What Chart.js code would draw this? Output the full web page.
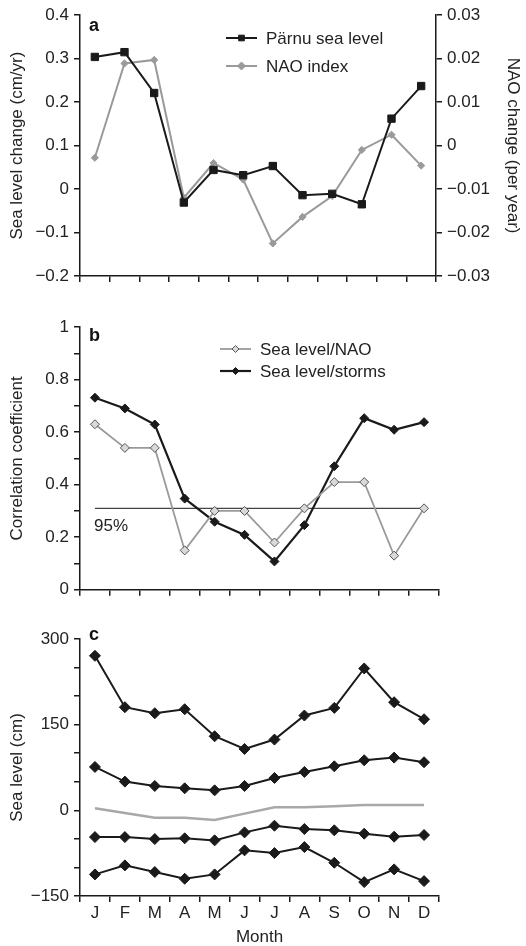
<!DOCTYPE html>
<html lang="en">
<head>
  <meta charset="UTF-8" />
  <title>Pärnu sea level, NAO and storms by month</title>
  <script src="https://cdn.jsdelivr.net/npm/chart.js"></script>
  <style>
    body { margin: 0; background: #fff; }
    .panel { position: absolute; left: 0; width: 526px; }
  </style>
</head>
<body>

  <div class="panel" style="top:0"><canvas id="chartA" width="526" height="300"></canvas></div>
  <div class="panel" style="top:300px"><canvas id="chartB" width="526" height="305"></canvas></div>
  <div class="panel" style="top:605px"><canvas id="chartC" width="526" height="341"></canvas></div>

  <script>
    const months = ['J', 'F', 'M', 'A', 'M', 'J', 'J', 'A', 'S', 'O', 'N', 'D'];

    // panel a
    const parnuSeaLevel = [0.304, 0.315, 0.221, -0.031, 0.044, 0.032, 0.053, -0.014, -0.011, -0.035, 0.162, 0.237];
    const naoIndex = [-0.0028, 0.0189, 0.0197, -0.0120, -0.0040, -0.0078, -0.0225, -0.0164, -0.0116, -0.0010, 0.0025, -0.0046];

    // panel b
    const corrNao = [0.63, 0.54, 0.54, 0.15, 0.30, 0.30, 0.18, 0.31, 0.41, 0.41, 0.13, 0.31];
    const corrStorms = [0.731, 0.690, 0.629, 0.347, 0.259, 0.209, 0.108, 0.246, 0.470, 0.653, 0.609, 0.638];
    const sig95 = 0.31;

    // panel c
    const seaMax = [270.6, 180.6, 170.0, 177.0, 129.7, 107.5, 123.9, 166.0, 179.4, 248.4, 189.3, 159.5];
    const seaUpper = [76.0, 50.3, 42.7, 38.6, 35.0, 42.7, 56.7, 67.2, 77.1, 87.7, 92.3, 84.2];
    const seaMean = [3.5, -4.7, -12.9, -12.9, -17.0, -5.8, 5.3, 5.3, 7.0, 9.4, 9.4, 9.4];
    const seaLower = [-46.8, -46.8, -50.3, -49.0, -52.6, -38.6, -26.9, -32.7, -35.0, -40.9, -46.2, -43.2];
    const seaMin = [-112.2, -96.4, -108.0, -119.8, -112.2, -70.1, -74.8, -64.3, -91.8, -125.6, -103.4, -123.9];

    const INK = '#1a1a1a';
    const GREY = '#9a9a9a';
    const FONT = "'Liberation Sans', Arial, sans-serif";

    Chart.defaults.font.family = FONT;
    Chart.defaults.font.size = 17;
    Chart.defaults.color = '#222';
    Chart.defaults.animation = false;
    Chart.defaults.events = [];
    Chart.defaults.plugins.legend.display = false;
    Chart.defaults.plugins.tooltip.enabled = false;

    const minus = v => (v < 0 ? '\u2212' : '') + Math.abs(v);

    function marker(ctx, style, x, y, r, fill, stroke) {
      ctx.fillStyle = fill;
      ctx.strokeStyle = stroke;
      ctx.lineWidth = 1;
      ctx.beginPath();
      if (style === 'rect') {
        const s = r * Math.SQRT1_2;
        ctx.rect(x - s, y - s, 2 * s, 2 * s);
      } else {
        ctx.moveTo(x, y - r); ctx.lineTo(x + r, y); ctx.lineTo(x, y + r); ctx.lineTo(x - r, y);
        ctx.closePath();
      }
      ctx.fill();
      ctx.stroke();
    }

    // small legend inside the plot + panel letters and extra labels
    const extras = {
      id: 'extras',
      afterDatasetsDraw(chart, args, opts) {
        const ctx = chart.ctx;
        const area = chart.chartArea;
        ctx.save();
        if (opts.legend) {
          const L = opts.legend;
          L.items.forEach((idx, row) => {
            const ds = chart.data.datasets[idx];
            const y = L.y + row * L.gap;
            ctx.strokeStyle = ds.borderColor;
            ctx.lineWidth = ds.borderWidth;
            ctx.beginPath();
            ctx.moveTo(L.x, y);
            ctx.lineTo(L.x + 31, y);
            ctx.stroke();
            marker(ctx, ds.pointStyle, L.x + 15.5, y, L.r, ds.pointBackgroundColor, ds.pointBorderColor);
            ctx.fillStyle = '#222';
            ctx.font = '17px ' + FONT;
            ctx.textBaseline = 'middle';
            ctx.textAlign = 'left';
            ctx.fillText(ds.label, L.x + 40, y + 1);
          });
        }
        ctx.fillStyle = '#111';
        ctx.font = 'bold 18px ' + FONT;
        ctx.textBaseline = 'middle';
        ctx.textAlign = 'left';
        ctx.fillText(opts.letter, area.left + 9, area.top + opts.letterDy);
        if (opts.sigText) {
          const y = chart.scales.y.getPixelForValue(sig95);
          ctx.font = '17px ' + FONT;
          ctx.fillStyle = '#222';
          ctx.fillText(opts.sigText, area.left + 14, y + 18);
        }
        ctx.restore();
      }
    };

    function xAxis(height, showLabels) {
      return {
        type: 'category',
        offset: true,
        grid: { offset: true, drawOnChartArea: false, drawTicks: true, tickLength: 6, color: INK, lineWidth: 1.5 },
        border: { color: INK, width: 1.5 },
        ticks: { padding: 1, autoSkip: false, maxRotation: 0, callback: showLabels ? (v, i) => months[i] : () => '' },
        afterFit: s => { s.height = height; }
      };
    }

    function yAxis(pos, min, max, step, fmt, title, width, titlePad) {
      return {
        position: pos,
        min: min,
        max: max,
        grid: { drawOnChartArea: false, drawTicks: true, tickLength: 6, color: INK, lineWidth: 1.5 },
        border: { color: INK, width: 1.5 },
        ticks: { stepSize: step, padding: 5, autoSkip: false, callback: fmt },
        title: { display: true, text: title, padding: { top: titlePad, bottom: 0 }, font: { size: 17 } },
        afterFit: s => { s.width = width; }
      };
    }

    function line(label, data, color, width, style, radius, fill, stroke, axis) {
      return {
        label: label,
        data: data,
        borderColor: color,
        borderWidth: width,
        pointStyle: style,
        pointRadius: radius,
        pointBackgroundColor: fill,
        pointBorderColor: stroke,
        pointBorderWidth: 1,
        tension: 0,
        yAxisID: axis || 'y'
      };
    }

    // ---- a
    new Chart(document.getElementById('chartA'), {
      type: 'line',
      data: {
        labels: months,
        datasets: [
          line('Pärnu sea level', parnuSeaLevel, INK, 2, 'rect', 5.2, INK, INK),
          line('NAO index', naoIndex, GREY, 2, 'rectRot', 3.6, GREY, GREY, 'y2')
        ]
      },
      options: {
        responsive: false,
        layout: { padding: { top: 14, left: 0, right: 0, bottom: 0 } },
        scales: {
          x: xAxis(24, false),
          y: yAxis('left', -0.2, 0.4, 0.1, v => minus(Number(v.toFixed(1))), 'Sea level change (cm/yr)', 80, 7),
          y2: yAxis('right', -0.03, 0.03, 0.01, v => minus(Number(v.toFixed(2))), 'NAO change (per year)', 90, 3)
        },
        plugins: {
          extras: { letter: 'a', letterDy: 11, legend: { x: 226, y: 38, gap: 28, r: 4, items: [0, 1] } }
        }
      },
      plugins: [extras]
    });

    // ---- b
    new Chart(document.getElementById('chartB'), {
      type: 'line',
      data: {
        labels: months,
        datasets: [
          line('Sea level/NAO', corrNao, GREY, 1.8, 'rectRot', 4.5, '#d9d9d9', '#555'),
          line('Sea level/storms', corrStorms, INK, 2.2, 'rectRot', 4.5, INK, INK),
          Object.assign(line('95%', months.map(() => sig95), '#444', 1.3, 'circle', 0, '#444', '#444'), { order: 5 })
        ]
      },
      options: {
        responsive: false,
        layout: { padding: { top: 27, left: 0, right: 87, bottom: 0 } },
        scales: {
          x: xAxis(13, false),
          y: yAxis('left', 0, 1, 0.1,
            v => (Math.round(v * 10) % 2 === 0 ? String(Number(v.toFixed(1))) : ''),
            'Correlation coefficient', 80, 7)
        },
        plugins: {
          extras: { letter: 'b', letterDy: 9, sigText: '95%', legend: { x: 220, y: 49, gap: 22, r: 3.5, items: [0, 1] } }
        }
      },
      plugins: [extras]
    });

    // ---- c
    new Chart(document.getElementById('chartC'), {
      type: 'line',
      data: {
        labels: months,
        datasets: [
          line('Max', seaMax, INK, 2, 'rectRot', 5.5, INK, INK),
          line('Upper', seaUpper, INK, 2, 'rectRot', 5.5, INK, INK),
          line('Mean', seaMean, '#a8a8a8', 2.5, 'circle', 0, '#a8a8a8', '#a8a8a8'),
          line('Lower', seaLower, INK, 2, 'rectRot', 5.5, INK, INK),
          line('Min', seaMin, INK, 2, 'rectRot', 5.5, INK, INK)
        ]
      },
      options: {
        responsive: false,
        layout: { padding: { top: 34, left: 0, right: 87, bottom: 0 } },
        scales: {
          x: Object.assign(xAxis(50, true), {
            title: { display: true, text: 'Month', padding: { top: 0, bottom: 0 }, font: { size: 17, lineHeight: 1 } }
          }),
          y: yAxis('left', -150, 300, 50, v => (v % 150 === 0 ? minus(v) : ''), 'Sea level (cm)', 80, 7)
        },
        plugins: {
          extras: { letter: 'c', letterDy: -4 }
        }
      },
      plugins: [extras]
    });
  </script>
</body>
</html>
